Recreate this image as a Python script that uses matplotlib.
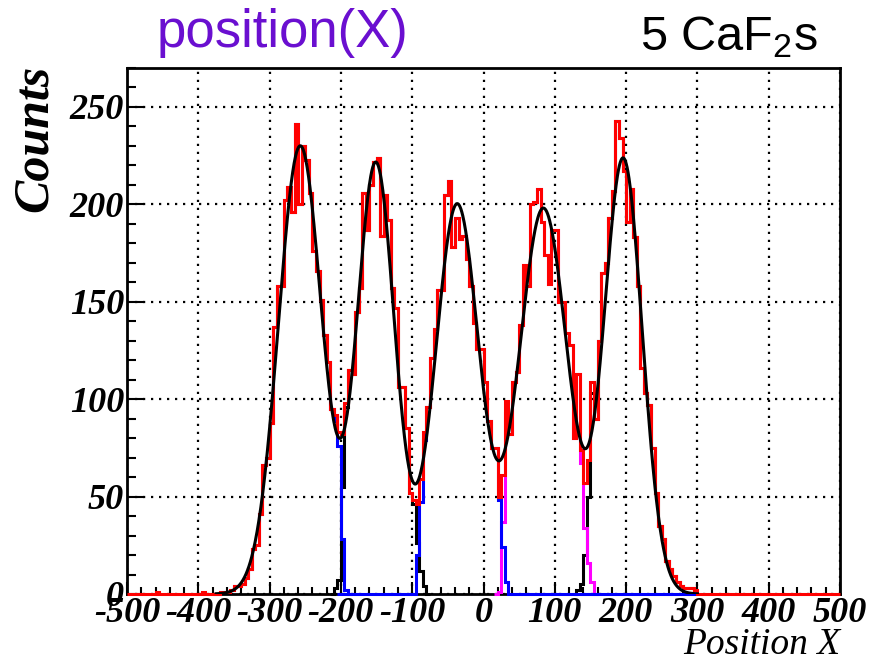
import numpy as np
import matplotlib
matplotlib.use("Agg")
import matplotlib.pyplot as plt
from matplotlib.ticker import MultipleLocator

# binning: 200 bins between -500 and 500
X_MIN, X_MAX, BIN_W = -500, 500, 5

# total histogram (red), counts per bin starting at RED_START
RED_START = -375
RED_COUNTS = [
    0, 1, 1, 1, 2,
    4, 4, 5, 8, 13, 23, 25, 41, 66, 70,
    88, 137, 158, 158, 202, 209, 196, 241, 200, 230,
    223, 206, 176, 166, 151, 133, 119, 95, 92, 83,
    82, 98, 115, 113, 145, 157, 206, 187, 210, 222,
    224, 184, 205, 192, 157, 147, 106, 106, 85, 52,
    48, 46, 59, 83, 96, 121, 136, 156, 156, 205,
    212, 178, 193, 182, 184, 172, 158, 139, 126, 126,
    109, 89, 75, 75, 50, 61, 99, 82, 109, 114,
    138, 169, 158, 200, 201, 208, 191, 174, 159, 187,
    187, 150, 150, 134, 128, 80, 113, 74, 57, 69,
    109, 90, 130, 165, 170, 193, 207, 243, 234, 217,
    191, 208, 183, 158, 116, 103, 97, 75, 52, 35,
    28, 17, 13, 9, 6, 4, 3, 3, 3, 2,
]
# isolated single counts far out on the left
RED_STRAY = {-460: 1, -395: 1}

# single-crystal histograms: equal to the total inside the core bins,
# with their own tails in the gaps between the crystals
COMP_COLORS = ["#0000ff", "black", "#0000ff", "#ff00ff", "black"]
COMP_CORE = [(-375, -215), (-190, -105), (-80, 10), (35, 130), (155, 295)]
COMP_LEFT_TAIL = [[], [3, 7, 55, 96], [20, 47, 79], [1, 37, 93], [2, 5, 20, 50, 103]]
COMP_RIGHT_TAIL = [[89, 76, 28, 2], [46, 26, 12, 4], [75, 48, 24, 6], [67, 34, 16, 6], []]
COMP_SPAN = [(-380, -185), (-215, -75), (-205, 300), (15, 160), (125, 300)]
DRAW_ORDER = [1, 4, 3, 0, 2]

# sum of five gaussians fitted to the total
FIT_AMP = [230, 221, 200, 198, 223]
FIT_MEAN = [-257, -151, -37, 84, 196]
FIT_SIGMA = [30.5, 26.5, 30.5, 34.0, 26.6]
FIT_RANGE = (-375, 300)

X_TICKS = list(range(-500, 501, 100))
Y_TICKS = [0, 50, 100, 150, 200, 250]
Y_MAX = 270

TITLE = "position(X)"
LABEL = "5 CaF$_2$s"

plt.rcParams["font.family"] = "Liberation Serif"
plt.rcParams["mathtext.default"] = "regular"

# total histogram over the full axis
edges = np.arange(X_MIN, X_MAX + BIN_W, BIN_W)
red = np.zeros(len(edges) - 1)
i0 = (RED_START - X_MIN) // BIN_W
red[i0:i0 + len(RED_COUNTS)] = RED_COUNTS
for x, c in RED_STRAY.items():
    red[(x - X_MIN) // BIN_W] = c


def idx(x):
    return (x - X_MIN) // BIN_W


def component(k):
    lo, hi = COMP_SPAN[k]
    c_lo, c_hi = COMP_CORE[k]
    vals = np.zeros((hi - lo) // BIN_W)
    off = idx(lo)
    vals[idx(c_lo) - off:idx(c_hi) - off + 1] = red[idx(c_lo):idx(c_hi) + 1]
    lt = COMP_LEFT_TAIL[k]
    s = idx(c_lo) - len(lt) - off
    vals[s:s + len(lt)] = lt
    rt = COMP_RIGHT_TAIL[k]
    s = idx(c_hi) + 1 - off
    vals[s:s + len(rt)] = rt
    return vals, np.arange(lo, hi + BIN_W, BIN_W)


fig = plt.figure(figsize=(8.74, 6.63), dpi=100)
ax = fig.add_axes([127 / 874, 1 - 594 / 663, 713 / 874, 526 / 663])

for k in DRAW_ORDER:
    vals, e = component(k)
    ax.stairs(vals, e, baseline=None, color=COMP_COLORS[k], lw=2.2,
              zorder=3, clip_on=False)

ax.stairs(red, edges, baseline=None, color="#ff0000", lw=2.2, zorder=4, clip_on=False)

xf = np.linspace(FIT_RANGE[0], FIT_RANGE[1], 1000)
yf = np.zeros_like(xf)
for a, m, s in zip(FIT_AMP, FIT_MEAN, FIT_SIGMA):
    yf += a * np.exp(-0.5 * ((xf - m) / s) ** 2)
ax.plot(xf, yf, color="black", lw=2.2, zorder=5)

ax.set_xlim(X_MIN, X_MAX)
ax.set_ylim(0, Y_MAX)
ax.set_xticks(X_TICKS)
ax.set_xticklabels([str(t) for t in X_TICKS])
ax.set_yticks(Y_TICKS)
ax.set_yticklabels([str(t) for t in Y_TICKS])
ax.xaxis.set_minor_locator(MultipleLocator(20))
ax.yaxis.set_minor_locator(MultipleLocator(10))
ax.tick_params(which="both", direction="in", top=False, right=False, width=1.5)
ax.tick_params(axis="x", which="major", length=9, pad=2, labelsize=26)
ax.tick_params(axis="x", which="minor", length=5)
ax.tick_params(axis="y", which="major", length=12, pad=2, labelsize=26)
ax.tick_params(axis="y", which="minor", length=6.5)
for lab in ax.get_xticklabels() + ax.get_yticklabels():
    lab.set_fontweight("bold")
    lab.set_fontstyle("italic")

ax.grid(True, which="major", color="black", linestyle=(0, (1, 2.6)), lw=1.6)
ax.set_axisbelow(True)
for sp in ax.spines.values():
    sp.set_linewidth(2.0)

fig.text(35 / 874, 1 - 65 / 663, "Counts", rotation=90, ha="center", va="top",
         fontsize=36, fontweight="bold", fontstyle="italic")
fig.text(840 / 874, 1 - 654 / 663, "Position X", ha="right", va="baseline",
         fontsize=27, fontstyle="italic")

fig.text(157 / 874, 1 - 47 / 663, TITLE, ha="left", va="baseline",
         fontsize=38, color="#6a0fd0", family="Liberation Sans")
fig.text(818 / 874, 1 - 50 / 663, LABEL, ha="right", va="baseline",
         fontsize=35, color="black", family="Liberation Sans")

fig.savefig("out.png", dpi=100)
